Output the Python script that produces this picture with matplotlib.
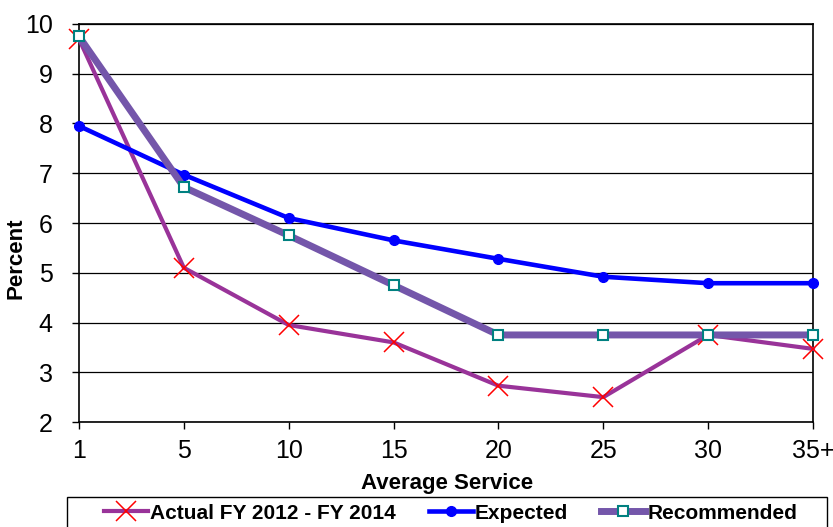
import matplotlib
matplotlib.use("Agg")
import matplotlib.pyplot as plt
from matplotlib.patches import Rectangle

plt.rcParams['font.family'] = ['Liberation Sans', 'DejaVu Sans']

# data
service = ['1', '5', '10', '15', '20', '25', '30', '35+']
actual = [9.70, 5.10, 3.95, 3.60, 2.73, 2.50, 3.75, 3.47]
expected = [7.95, 6.97, 6.10, 5.65, 5.28, 4.92, 4.79, 4.79]
recommended = [9.75, 6.72, 5.75, 4.75, 3.75, 3.75, 3.75, 3.75]

x = list(range(len(service)))

fig = plt.figure(figsize=(8.33, 5.27), dpi=100)
ax = fig.add_axes([0.0948, 0.1992, 0.8812, 0.7553])

# horizontal grid
for yv in range(2, 11):
    ax.axhline(yv, color='black', linewidth=0.9, zorder=1)

ax.plot(x, actual, color='#993399', linewidth=3, marker='x', markersize=15,
        markeredgecolor='#ff0000', markeredgewidth=1.1, zorder=3,
        clip_on=False, label='Actual FY 2012 - FY 2014')
ax.plot(x, expected, color='#0000ff', linewidth=3.3, marker='o', markersize=7,
        markeredgecolor='#0000ff', zorder=4, clip_on=False, label='Expected')
ax.plot(x, recommended, color='#7456aa', linewidth=5, marker='s', markersize=7,
        markerfacecolor='white', markeredgecolor='#008080', markeredgewidth=1.5,
        zorder=5, clip_on=False, label='Recommended')

ax.set_xlim(0, len(service) - 1)
ax.set_ylim(2, 10)
ax.set_xticks(x)
ax.set_xticklabels(service)
ax.set_yticks(range(2, 11))

ax.tick_params(axis='x', direction='out', length=5, width=1, pad=7, labelsize=18)
ax.tick_params(axis='y', direction='out', length=5, width=1, pad=14, labelsize=18)
for s in ax.spines.values():
    s.set_color('black')
    s.set_linewidth(1.2)

fig.text(0.5365, 0.082, 'Average Service', fontsize=16, fontweight='bold',
         ha='center', va='center')
fig.text(0.019, 0.51, 'Percent', rotation=90, fontsize=16, fontweight='bold',
         ha='center', va='center')

# legend box (wider than its entries, runs off the bottom edge)
fig.patches.append(Rectangle((0.0804, -0.05), 0.912, 0.1069, transform=fig.transFigure,
                             facecolor='white', edgecolor='black', linewidth=1.0))
leg = fig.legend(loc='center', bbox_to_anchor=(0.541, 0.0265),
                 bbox_transform=fig.transFigure, ncol=3,
                 frameon=False, handlelength=2.1, handletextpad=0.1,
                 borderaxespad=0, columnspacing=1.6,
                 prop={'weight': 'bold', 'size': 15})

fig.savefig('out.png', dpi=100)
